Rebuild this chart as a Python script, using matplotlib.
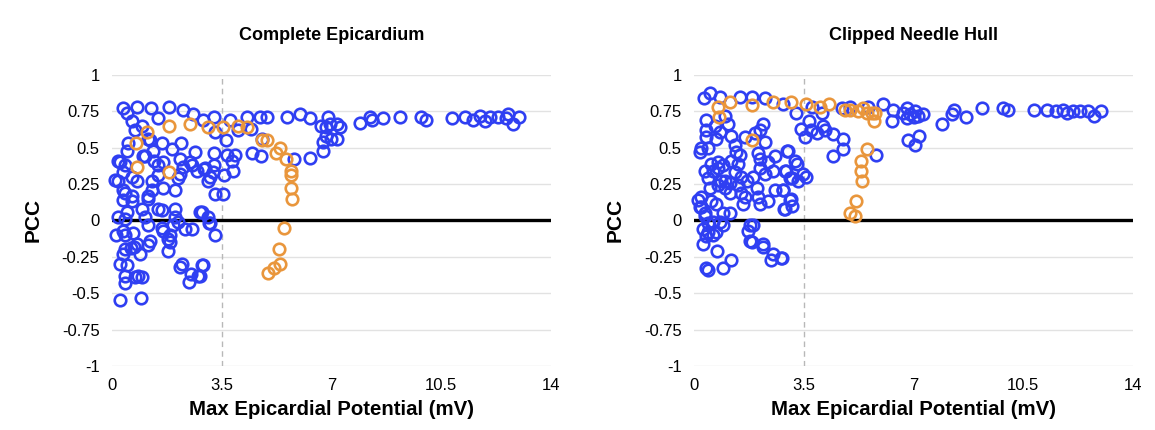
import numpy as np
import matplotlib
matplotlib.use("Agg")
import matplotlib.pyplot as plt

plt.rcParams['font.family'] = ['Liberation Sans', 'DejaVu Sans']

# ---- data (x: max potential mV, y: PCC) ----
titles = ["Complete Epicardium", "Clipped Needle Hull"]
x_ticks = [0, 3.5, 7, 10.5, 14]
x_tick_labels = ["0", "3.5", "7", "10.5", "14"]
y_ticks = [1, 0.75, 0.5, 0.25, 0, -0.25, -0.5, -0.75, -1]
y_tick_labels = ["1", "0.75", "0.5", "0.25", "0", "-0.25", "-0.5", "-0.75", "-1"]

left_blue = [
    (0.34, 0.77), (0.49, 0.74), (0.81, 0.78), (1.24, 0.77), (1.48, 0.70), (1.82, 0.78),
    (2.27, 0.76), (2.59, 0.73), (2.89, 0.69), (3.26, 0.71), (3.76, 0.69), (4.29, 0.71),
    (4.03, 0.62), (4.43, 0.63), (4.72, 0.71), (4.95, 0.71), (5.57, 0.71), (6.00, 0.73),
    (6.31, 0.70), (6.88, 0.71), (6.65, 0.65), (6.84, 0.64), (6.95, 0.66), (7.16, 0.66),
    (7.27, 0.64), (6.84, 0.58), (7.00, 0.56), (7.18, 0.56), (6.74, 0.54), (6.74, 0.48),
    (7.91, 0.67), (8.22, 0.71), (8.28, 0.69), (8.65, 0.70), (9.18, 0.71), (9.84, 0.71),
    (10.00, 0.69), (10.83, 0.70), (11.26, 0.71), (11.52, 0.69), (11.73, 0.72), (11.89, 0.68),
    (12.05, 0.71), (12.32, 0.71), (12.58, 0.70), (12.64, 0.73), (12.80, 0.66), (12.99, 0.71),
    (3.28, 0.61), (3.64, 0.55), (4.77, 0.56), (4.45, 0.46), (4.74, 0.44), (5.81, 0.42),
    (6.31, 0.43), (3.25, 0.46), (3.66, 0.45), (3.92, 0.45), (3.82, 0.41), (3.85, 0.34),
    (2.97, 0.36), (3.25, 0.38), (3.23, 0.33), (3.07, 0.27), (3.57, 0.31), (3.28, 0.18),
    (3.55, 0.18), (2.86, 0.06), (3.07, 0.02), (3.10, -0.02), (3.28, -0.10), (2.89, -0.31),
    (2.80, -0.38),
    (0.65, 0.68), (0.95, 0.65), (0.73, 0.62), (1.16, 0.56), (0.52, 0.53), (0.47, 0.48),
    (1.05, 0.44), (1.32, 0.48), (1.60, 0.53), (1.90, 0.49), (2.20, 0.53), (2.65, 0.47),
    (1.21, 0.55), (0.98, 0.44), (2.49, 0.40), (2.17, 0.42),
    (0.26, 0.40), (0.41, 0.38), (0.36, 0.33), (1.35, 0.41), (1.48, 0.38), (1.64, 0.40),
    (2.27, 0.37), (2.54, 0.38), (2.94, 0.35), (0.65, 0.30), (0.79, 0.27), (0.20, 0.27),
    (1.27, 0.27), (1.48, 0.31), (1.64, 0.22), (2.01, 0.21), (0.41, 0.19), (0.63, 0.17),
    (1.27, 0.21), (1.16, 0.17), (0.20, 0.41), (2.11, 0.29), (2.17, 0.32), (2.70, 0.34),
    (3.12, 0.30), (0.10, 0.28), (0.36, 0.21),
    (0.36, 0.14), (0.65, 0.13), (1.16, 0.15), (1.48, 0.08), (1.58, 0.07), (2.01, 0.08),
    (0.47, 0.06), (0.97, 0.08), (0.20, 0.02), (0.41, 0.01), (1.05, 0.02), (2.01, 0.02),
    (2.11, -0.01), (2.81, 0.06), (3.13, -0.02), (0.12, -0.10), (0.36, -0.07), (0.41, -0.10),
    (0.68, -0.09), (1.14, -0.03), (1.58, -0.05), (1.64, -0.07), (1.85, -0.10), (1.80, -0.13),
    (1.95, -0.03), (2.33, -0.06), (2.56, -0.06), (0.71, -0.18), (1.16, -0.17), (1.80, -0.21),
    (0.36, -0.23), (0.89, -0.23), (0.47, -0.31), (0.26, -0.30), (2.22, -0.30), (2.17, -0.32),
    (2.86, -0.31), (0.84, -0.38), (0.95, -0.39), (0.41, -0.38), (0.41, -0.43), (2.52, -0.37),
    (2.75, -0.38), (2.46, -0.42), (0.26, -0.55), (0.92, -0.53), (0.40, -0.20), (0.60, -0.19),
    (1.20, -0.14), (0.80, -0.16), (1.85, -0.15), (0.73, -0.39),
]
left_orange = [
    (1.10, 0.61), (0.77, 0.53), (0.79, 0.37), (1.83, 0.65), (2.49, 0.66), (1.83, 0.33),
    (3.07, 0.64), (3.55, 0.64), (4.03, 0.65), (4.31, 0.64), (4.77, 0.55), (4.95, 0.55),
    (5.36, 0.50), (5.23, 0.46), (5.55, 0.42), (5.70, 0.34), (5.70, 0.31), (5.71, 0.22),
    (5.73, 0.15), (5.49, -0.05), (5.33, -0.20), (5.36, -0.30), (5.17, -0.33), (4.99, -0.36),
]

right_blue = [
    (0.50, 0.875), (0.32, 0.84), (0.82, 0.85), (1.46, 0.85), (1.83, 0.85), (2.25, 0.84),
    (2.83, 0.80), (3.26, 0.74), (3.75, 0.78), (4.07, 0.74), (4.70, 0.77), (4.97, 0.78),
    (5.55, 0.78), (6.01, 0.80), (6.35, 0.76), (6.67, 0.74), (6.80, 0.77), (6.90, 0.73),
    (7.05, 0.75), (7.15, 0.72), (7.30, 0.73), (6.80, 0.70), (7.00, 0.71), (6.30, 0.68),
    (6.83, 0.55), (7.04, 0.52), (7.18, 0.58), (7.89, 0.66), (8.24, 0.73), (8.28, 0.76),
    (8.67, 0.71), (9.17, 0.77), (9.86, 0.77), (10.02, 0.76), (10.84, 0.76), (11.25, 0.76),
    (11.55, 0.75), (11.75, 0.76), (11.90, 0.74), (12.10, 0.75), (12.30, 0.75), (12.55, 0.75),
    (12.75, 0.72), (12.97, 0.75),
    (3.40, 0.63), (3.67, 0.68), (3.72, 0.62), (3.91, 0.60), (4.10, 0.65), (4.17, 0.62),
    (4.44, 0.59), (4.76, 0.56), (4.76, 0.49), (4.44, 0.44), (3.54, 0.57), (5.80, 0.45),
    (2.97, 0.48), (3.22, 0.41), (3.27, 0.39), (2.90, 0.34), (3.11, 0.29), (3.32, 0.27),
    (3.57, 0.30), (2.82, 0.21), (3.06, 0.14), (3.11, 0.10), (2.87, 0.08), (2.79, -0.26),
    (0.39, 0.69), (0.66, 0.65), (0.98, 0.72), (1.08, 0.66), (0.39, 0.62), (0.82, 0.61),
    (0.39, 0.57), (0.71, 0.56), (1.19, 0.58), (2.20, 0.66), (2.09, 0.62), (1.93, 0.60),
    (1.62, 0.57), (2.25, 0.54), (1.30, 0.52), (0.23, 0.50), (0.45, 0.50), (0.18, 0.47),
    (1.35, 0.47), (1.46, 0.45), (1.19, 0.41), (2.04, 0.46), (2.09, 0.42), (2.36, 0.40),
    (2.57, 0.44), (3.00, 0.48), (0.76, 0.40), (0.55, 0.39), (0.92, 0.38), (0.34, 0.34),
    (0.61, 0.34), (0.76, 0.36), (1.30, 0.33), (1.51, 0.30), (1.40, 0.39), (1.88, 0.30),
    (1.67, 0.27), (2.09, 0.36), (2.25, 0.32), (2.52, 0.34), (2.94, 0.34), (3.05, 0.29),
    (3.47, 0.32), (0.45, 0.29), (0.87, 0.27), (0.98, 0.27), (1.14, 0.26),
    (0.23, 0.16), (0.13, 0.14), (0.50, 0.22), (0.76, 0.24), (0.98, 0.22), (1.14, 0.19),
    (1.40, 0.24), (1.51, 0.19), (1.62, 0.16), (1.56, 0.11), (1.99, 0.22), (2.04, 0.16),
    (2.09, 0.11), (2.36, 0.13), (2.57, 0.21), (2.83, 0.21), (3.10, 0.15), (2.89, 0.08),
    (0.23, 0.09), (0.34, 0.05), (0.55, 0.13), (0.71, 0.11), (0.92, 0.05), (1.14, 0.05),
    (0.45, -0.02), (0.61, -0.01), (0.82, -0.01), (0.92, -0.03), (0.29, -0.06), (0.45, -0.08),
    (0.61, -0.10), (0.39, -0.11), (0.29, -0.16), (0.71, -0.08), (1.78, -0.03), (1.88, -0.03),
    (1.72, -0.07), (1.78, -0.14), (1.83, -0.15), (2.20, -0.16), (2.20, -0.18), (0.74, -0.21),
    (2.52, -0.23), (2.46, -0.27), (2.78, -0.26), (1.19, -0.27), (0.92, -0.33), (0.39, -0.33),
    (0.45, -0.34), (0.19, 0.09), (0.35, 0.03),
]
right_orange = [
    (0.76, 0.78), (1.14, 0.81), (1.83, 0.79), (2.52, 0.81), (3.08, 0.81), (3.58, 0.80),
    (4.01, 0.78), (4.31, 0.80), (0.79, 0.71), (1.85, 0.55), (4.81, 0.76), (4.97, 0.76),
    (5.24, 0.75), (5.37, 0.77), (5.52, 0.74), (5.66, 0.74), (5.76, 0.74), (5.73, 0.68),
    (5.50, 0.49), (5.32, 0.41), (5.32, 0.34), (5.34, 0.27), (5.16, 0.13), (4.97, 0.05),
    (5.13, 0.03),
]

BLUE = "#2f3ff2"
ORANGE = "#e9963c"

fig = plt.figure(figsize=(11.55, 4.30), dpi=100)
ax1 = fig.add_axes([0.097, 0.149, 0.380, 0.677])
ax2 = fig.add_axes([0.601, 0.149, 0.380, 0.677])


def draw_panel(ax, title, blue, orange):
    ax.set_xlim(0, 14)
    ax.set_ylim(-1, 1)
    for yv in y_ticks:
        ax.axhline(yv, color="#e2e2e2", lw=1.0, zorder=0)
    ax.axvline(3.5, color="#b8b8b8", lw=1.0, ls=(0, (4, 3)), zorder=0)
    ax.axhline(0, color="black", lw=2.4, zorder=1)

    bx, by = zip(*blue)
    ox, oy = zip(*orange)
    ax.plot(bx, by, "o", ms=8.3, mfc="none", mec=BLUE, mew=1.9, zorder=3, clip_on=False)
    ax.plot(ox, oy, "o", ms=8.3, mfc="none", mec=ORANGE, mew=1.9, zorder=4, clip_on=False)

    ax.set_xticks(x_ticks)
    ax.set_xticklabels(x_tick_labels, fontsize=12)
    ax.set_yticks(y_ticks)
    ax.set_yticklabels(y_tick_labels, fontsize=12)
    ax.tick_params(length=0, pad=9)
    for s in ax.spines.values():
        s.set_visible(False)

    ax.set_title(title, fontsize=13, fontweight="bold", pad=25)
    ax.set_xlabel("Max Epicardial Potential (mV)", fontsize=14.7, fontweight="bold", labelpad=5)
    ax.set_ylabel("PCC", fontsize=15, fontweight="bold", labelpad=14)


draw_panel(ax1, titles[0], left_blue, left_orange)
draw_panel(ax2, titles[1], right_blue, right_orange)

fig.savefig("out.png", dpi=100)
